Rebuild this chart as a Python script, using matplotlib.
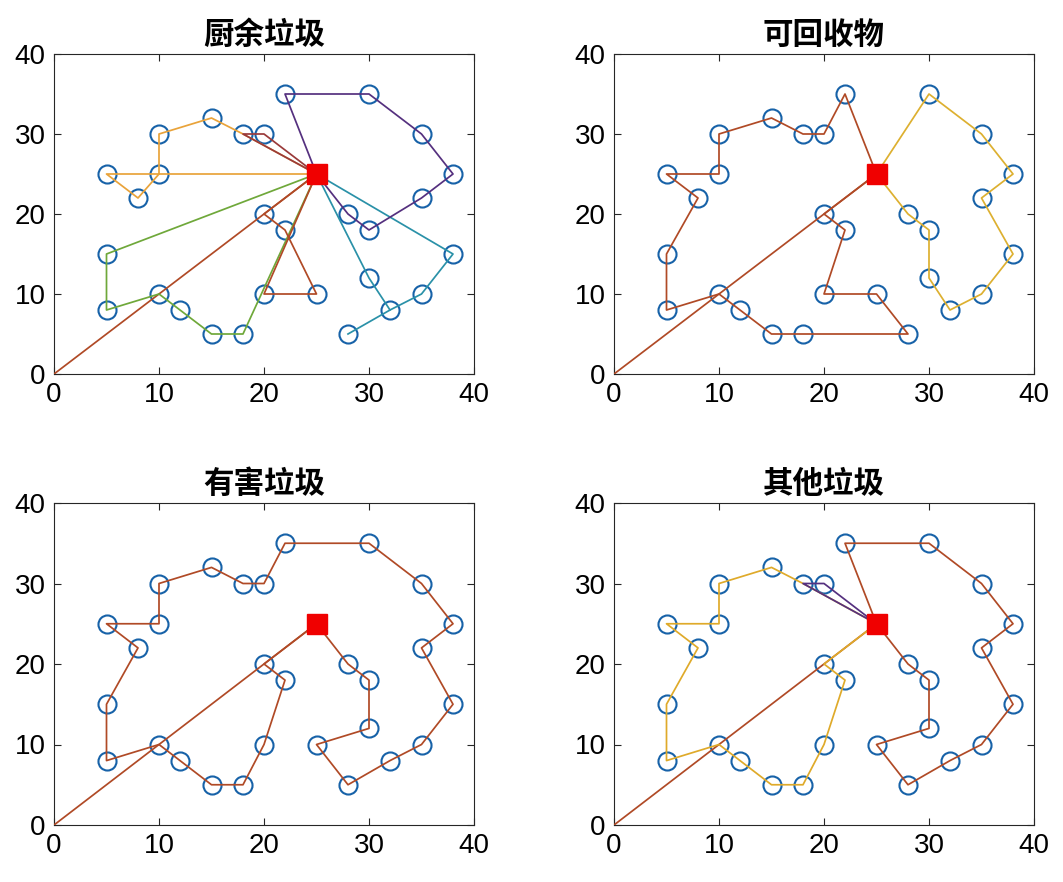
import matplotlib
matplotlib.use("Agg")
import matplotlib.pyplot as plt

plt.rcParams['font.family'] = ['Liberation Sans', 'Noto Sans CJK SC', 'DejaVu Sans']

# depot and customers
depot = (25, 25)
origin = (0, 0)
cx = [22, 30, 15, 10, 18, 20, 35, 5, 10, 38, 8, 35, 20, 28, 22, 30, 5, 38, 30, 10, 20, 25, 35, 12, 5, 32, 15, 18, 28]
cy = [35, 35, 32, 30, 30, 30, 30, 25, 25, 25, 22, 22, 20, 20, 18, 18, 15, 15, 12, 10, 10, 10, 10, 8, 8, 8, 5, 5, 5]

titles = ['厨余垃圾', '可回收物', '有害垃圾', '其他垃圾']

# routes as customer indices, 'D' = depot
routes1 = [
    (['D', 7, 10, 8, 3, 2, 4, 'D'], '#E9A33A'),
    (['D', 16, 24, 19, 23, 26, 27, 'D'], '#6FA83A'),
    (['D', 12, 14, 21, 20, 'D'], '#B04A26'),
    (['D', 18, 25, 28], '#2A91A8'),
    (['D', 17, 22, 25], '#2A91A8'),
    (['D', 0, 1, 6, 9, 11, 15, 13, 'D'], '#55307F'),
    (['D', 5, 4, 'D'], '#9A3A3A'),
]
routes2 = [
    (['D', 0, 5, 4, 2, 3, 8, 7, 10, 16, 24, 19, 23, 26, 27, 28, 21, 20, 14, 12, 'D'], '#B04A26'),
    (['D', 1, 6, 9, 11, 17, 22, 25, 18, 15, 13, 'D'], '#DDB030'),
]
routes3 = [
    (['D', 13, 15, 18, 21, 28, 25, 22, 17, 11, 9, 6, 1, 0, 5, 4, 2, 3, 8, 7, 10, 16,
      24, 19, 23, 26, 27, 20, 14, 12, 'D'], '#B04A26'),
]
routes4 = [
    (['D', 0, 1, 6, 9, 11, 17, 22, 25, 28, 21, 18, 15, 13, 'D'], '#B04A26'),
    (['D', 12, 14, 20, 27, 26, 23, 19, 24, 16, 10, 7, 8, 3, 2, 4, 'D'], '#DFAA2A'),
    (['D', 5, 4, 'D'], '#55307F'),
]
all_routes = [routes1, routes2, routes3, routes4]

positions = [
    [54/1063, 1 - 374/882, 420/1063, 320/882],
    [614/1063, 1 - 374/882, 420/1063, 320/882],
    [54/1063, 1 - 825/882, 420/1063, 322/882],
    [614/1063, 1 - 825/882, 420/1063, 322/882],
]

fig = plt.figure(figsize=(10.63, 8.82), dpi=100)

for k in range(4):
    ax = fig.add_axes(positions[k])
    ax.plot(cx, cy, 'o', ms=13, mfc='none', mec='#1762A8', mew=1.5, zorder=2)
    # line from origin to depot
    ax.plot([origin[0], depot[0]], [origin[1], depot[1]], color='#B04A26', lw=1.25, zorder=3)
    for path, col in all_routes[k]:
        xs = [depot[0] if p == 'D' else cx[p] for p in path]
        ys = [depot[1] if p == 'D' else cy[p] for p in path]
        ax.plot(xs, ys, color=col, lw=1.25, zorder=4)
    ax.plot(depot[0], depot[1], 's', ms=15, color='#F00000', zorder=5)
    ax.set_xlim(0, 40)
    ax.set_ylim(0, 40)
    ax.set_xticks([0, 10, 20, 30, 40])
    ax.set_yticks([0, 10, 20, 30, 40])
    ax.tick_params(direction='in', top=True, right=True, labelsize=20, length=5,
                   width=0.8, color='#262626', pad=6)
    for s in ax.spines.values():
        s.set_color('#262626')
        s.set_linewidth(0.8)
    ax.set_title(titles[k], fontsize=22, fontweight='bold',
                 family=['Noto Sans CJK SC', 'DejaVu Sans'], pad=7)

plt.savefig('out.png', dpi=100)
